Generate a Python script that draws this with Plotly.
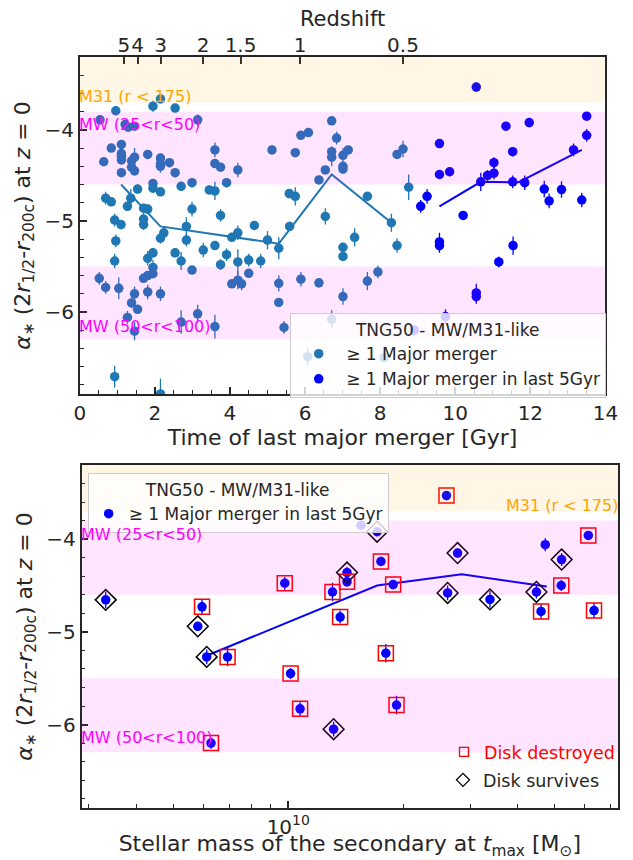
import numpy as np
import plotly.graph_objects as go

# ---------------------------------------------------------------------------
# TNG50 MW/M31-like galaxies with at least one major merger:
# time of the last major merger [Gyr], alpha_* (2 r_1/2 - r_200c) at z=0, 1-sigma
# ---------------------------------------------------------------------------
mm_time = [
    0.96, 0.54, 1.95, 2.15, 2.54, 3.14, 1.21, 1.29, 1.46, 0.84, 1.11, 0.64, 1.11, 1.11,
    1.11, 1.38, 1.46, 1.38, 1.46, 1.11, 1.81, 2.15, 2.15, 2.15, 2.39, 2.54, 3.60, 3.60,
    3.75, 4.21, 1.95, 1.95, 2.15, 1.54, 2.70, 2.99, 3.45, 3.60, 3.91, 0.69, 0.84, 1.36,
    1.27, 1.70, 1.81, 2.99, 3.75, 1.70, 0.93, 1.10, 1.70, 2.84, 4.65,
    0.96, 2.15, 2.24, 2.84, 2.54, 2.70, 3.29, 3.60, 3.91, 4.05, 4.21, 4.50, 4.21, 3.75,
    2.99, 0.93, 1.95, 1.81, 1.95, 1.95, 1.81, 1.70, 0.52, 0.69, 1.04, 1.46, 1.81, 2.15,
    1.38, 1.54, 1.27, 1.46, 2.70, 3.14, 3.60, 4.05, 4.21, 4.31, 4.50, 0.93, 2.15,
    6.71, 5.89, 6.09, 6.84, 5.12, 5.74, 6.71, 6.71, 7.01, 7.15, 7.01, 7.01, 6.54, 6.37,
    8.45, 8.61, 5.58, 5.74, 7.66, 8.76, 6.54, 5.59, 8.30,
    5.00, 5.30, 4.82, 5.30, 5.30, 5.89, 6.37, 5.44, 7.01, 7.66, 7.94, 7.01, 7.01, 7.32,
    8.45, 6.71, 6.07, 8.10,
]
mm_alpha = [
    -3.79, -3.89, -3.74, -3.66, -3.76, -3.89, -3.94, -3.97, -3.96, -4.20, -4.16, -4.35, -4.26, -4.29,
    -4.33, -4.34, -4.30, -4.41, -4.45, -4.47, -4.27, -4.31, -4.37, -4.40, -4.36, -4.47, -4.22, -4.37,
    -4.41, -4.44, -4.59, -4.64, -4.68, -4.65, -4.62, -4.58, -4.66, -4.67, -4.58, -4.75, -4.79, -4.75,
    -4.84, -4.86, -4.87, -4.87, -4.94, -4.98, -4.99, -5.04, -5.04, -5.06, -5.05,
    -5.22, -5.19, -5.13, -5.21, -5.35, -5.44, -5.32, -5.27, -5.37, -5.18, -5.13, -5.43, -5.45, -5.48,
    -5.54, -5.44, -5.35, -5.41, -5.51, -5.58, -5.60, -5.63, -5.63, -5.73, -5.74, -5.80, -5.78, -5.80,
    -5.90, -5.97, -6.06, -6.21, -6.11, -6.02, -6.16, -5.69, -5.65, -5.69, -5.575, -6.71, -6.90,
    -3.90, -4.06, -4.03, -4.09, -4.22, -4.25, -4.24, -4.30, -4.28, -4.22, -4.40, -4.43, -4.44, -4.55,
    -4.27, -4.21, -4.70, -4.73, -4.73, -4.63, -4.95, -5.06, -5.02,
    -5.21, -5.30, -5.44, -5.685, -5.895, -5.64, -5.68, -6.17, -5.83, -5.66, -5.56, -5.29, -5.39, -5.18,
    -5.27, -6.08, -6.49, -6.50,
]
mm_err = [
    0.03, 0.05, 0.06, 0.04, 0.03, 0.06, 0.04, 0.04, 0.04, 0.04, 0.05, 0.04, 0.04, 0.04,
    0.04, 0.06, 0.10, 0.05, 0.05, 0.04, 0.04, 0.05, 0.06, 0.07, 0.05, 0.05, 0.08, 0.05,
    0.05, 0.08, 0.05, 0.05, 0.04, 0.05, 0.04, 0.05, 0.05, 0.10, 0.05, 0.07, 0.04, 0.10,
    0.05, 0.05, 0.05, 0.08, 0.07, 0.08, 0.07, 0.05, 0.06, 0.10, 0.05,
    0.07, 0.06, 0.06, 0.07, 0.05, 0.10, 0.08, 0.05, 0.07, 0.05, 0.08, 0.07, 0.14, 0.06,
    0.03, 0.08, 0.05, 0.08, 0.08, 0.04, 0.04, 0.04, 0.07, 0.07, 0.12, 0.08, 0.08, 0.08,
    0.06, 0.04, 0.07, 0.10, 0.13, 0.10, 0.13, 0.04, 0.10, 0.07, 0.04, 0.12, 0.17,
    0.03, 0.04, 0.04, 0.07, 0.05, 0.04, 0.06, 0.10, 0.08, 0.04, 0.05, 0.05, 0.04, 0.04,
    0.05, 0.09, 0.05, 0.10, 0.04, 0.14, 0.09, 0.05, 0.10,
    0.10, 0.12, 0.08, 0.09, 0.04, 0.08, 0.05, 0.07, 0.09, 0.10, 0.07, 0.05, 0.04, 0.10,
    0.08, 0.10, 0.10, 0.04,
]

# Sub-sample whose last major merger happened in the last 5 Gyr
recent_time = [
    10.56, 13.50, 11.97, 11.35, 13.50, 9.58, 13.15, 11.53, 11.03, 9.85, 11.03,
    9.58, 10.86, 10.68, 11.53, 11.85, 12.37, 12.83, 9.25, 13.37, 12.50, 9.08,
    10.21, 9.58, 9.58, 11.54, 11.16, 10.56, 10.56, 9.74, 8.91,
]
recent_alpha = [
    -3.53, -3.85, -3.92, -3.96, -4.06, -4.15, -4.22, -4.24, -4.36, -4.46, -4.475,
    -4.49, -4.50, -4.57, -4.57, -4.58, -4.65, -4.655, -4.73, -4.77, -4.78, -4.84,
    -4.94, -5.23, -5.27, -5.27, -5.45, -5.79, -5.83, -6.05, -6.20,
]
recent_err = [
    0.05, 0.03, 0.05, 0.04, 0.07, 0.05, 0.07, 0.05, 0.06, 0.05, 0.07,
    0.05, 0.06, 0.10, 0.07, 0.08, 0.09, 0.09, 0.08, 0.08, 0.08, 0.07,
    0.05, 0.10, 0.08, 0.10, 0.06, 0.10, 0.08, 0.08, 0.06,
]
# stellar mass of the secondary at t_max [1e10 Msun]
recent_mstar = [
    2.600, 1.552, 1.710, 6.124, 4.721, 2.780, 5.212, 1.750, 1.426, 1.426, 0.979,
    1.884, 5.200, 1.306, 4.477, 2.618, 3.381, 0.332, 0.594, 6.339, 4.603, 1.368,
    0.579, 1.803, 0.611, 0.693, 1.014, 1.923, 1.074, 1.315, 0.627,
]
recent_disk = [
    "destroyed", "", "survives", "destroyed", "", "survives", "survives", "destroyed",
    "survives", "destroyed", "destroyed", "destroyed", "destroyed", "destroyed",
    "survives", "survives", "survives", "survives", "destroyed", "destroyed", "destroyed",
    "destroyed", "survives", "destroyed", "survives", "destroyed", "destroyed",
    "destroyed", "destroyed", "survives", "destroyed",
]

# Running medians
mm_med_time = [1.10, 2.15, 5.30, 6.71, 8.30]
mm_med_alpha = [-4.60, -5.06, -5.25, -4.49, -5.02]
recent_med_time = [9.58, 10.68, 11.69, 13.37]
recent_med_alpha = [-4.84, -4.57, -4.575, -4.22]
mass_med = [0.617, 1.710, 2.851, 4.764]
mass_med_alpha = [-5.25, -4.50, -4.38, -4.51]

# Observational bands of alpha_*
m31_band = (-3.70, -3.0)
mw_inner_band = (-4.60, -3.80)
mw_outer_band = (-6.30, -5.50)

# Redshift labels for the secondary time axis
redshift_ticks = [5, 4, 3, 2, 1.5, 1, 0.5]
redshift_labels = ["5", "4", "3", "2", "1.5", "1", "0.5"]


def cosmic_age(z, h0=67.74, om=0.3089):
    """Age of a flat LCDM universe at redshift z, in Gyr."""
    ol = 1.0 - om
    a = 1.0 / (1.0 + np.asarray(z, dtype=float))
    return (977.8 / h0) * 2.0 / (3.0 * np.sqrt(ol)) * np.arcsinh(np.sqrt(ol / om) * a ** 1.5)


TAB_BLUE = "#1f77b4"
BLUE = "#0000ff"
INK = "#262626"
FONT = "DejaVu Sans"
YRANGE = [-6.9, -3.2]

fig = go.Figure()

# ---------------- top panel ----------------
fig.add_trace(go.Scatter(
    x=mm_time, y=mm_alpha, mode="markers", name="≥ 1 Major merger",
    marker=dict(color=TAB_BLUE, size=9.5),
    error_y=dict(type="data", array=mm_err, color=TAB_BLUE, thickness=1.3, width=0),
    xaxis="x", yaxis="y", legend="legend",
))
fig.add_trace(go.Scatter(
    x=recent_time, y=recent_alpha, mode="markers", name="≥ 1 Major merger in last 5Gyr",
    marker=dict(color=BLUE, size=9.5),
    error_y=dict(type="data", array=recent_err, color=BLUE, thickness=1.3, width=0),
    xaxis="x", yaxis="y", legend="legend",
))
fig.add_trace(go.Scatter(
    x=mm_med_time, y=mm_med_alpha, mode="lines", line=dict(color=TAB_BLUE, width=2),
    showlegend=False, xaxis="x", yaxis="y",
))
fig.add_trace(go.Scatter(
    x=recent_med_time, y=recent_med_alpha, mode="lines", line=dict(color=BLUE, width=2),
    showlegend=False, xaxis="x", yaxis="y",
))
# carrier for the redshift axis
fig.add_trace(go.Scatter(x=[None], y=[None], xaxis="x3", yaxis="y",
                         showlegend=False, hoverinfo="skip"))

# ---------------- bottom panel ----------------
mass_msun = [m * 1e10 for m in recent_mstar]
fig.add_trace(go.Scatter(
    x=[m * 1e10 for m in mass_med], y=mass_med_alpha, mode="lines",
    line=dict(color=BLUE, width=2), showlegend=False, xaxis="x2", yaxis="y2",
))
fig.add_trace(go.Scatter(
    x=mass_msun, y=recent_alpha, mode="markers", name="≥ 1 Major merger in last 5Gyr",
    marker=dict(color=BLUE, size=9.5),
    error_y=dict(type="data", array=recent_err, color=BLUE, thickness=1.3, width=0),
    xaxis="x2", yaxis="y2", legend="legend2",
))
destroyed = [i for i, d in enumerate(recent_disk) if d == "destroyed"]
survives = [i for i, d in enumerate(recent_disk) if d == "survives"]
fig.add_trace(go.Scatter(
    x=[mass_msun[i] for i in destroyed], y=[recent_alpha[i] for i in destroyed],
    mode="markers", showlegend=False,
    marker=dict(symbol="square-open", size=15, color="#ff0000", line=dict(width=1.5)),
    xaxis="x2", yaxis="y2",
))
fig.add_trace(go.Scatter(
    x=[mass_msun[i] for i in survives], y=[recent_alpha[i] for i in survives],
    mode="markers", showlegend=False,
    marker=dict(symbol="diamond-open", size=16, color="#000000", line=dict(width=1.5)),
    xaxis="x2", yaxis="y2",
))
# legend keys for the disk classification (smaller symbols than in the panel)
fig.add_trace(go.Scatter(
    x=[None], y=[None], mode="markers", name="Disk destroyed",
    marker=dict(symbol="square-open", size=9, color="#ff0000", line=dict(width=1.3)),
    xaxis="x2", yaxis="y2", legend="legend3",
))
fig.add_trace(go.Scatter(
    x=[None], y=[None], mode="markers", name="Disk survives",
    marker=dict(symbol="diamond-open", size=10, color="#000000", line=dict(width=1.3)),
    xaxis="x2", yaxis="y2", legend="legend4",
))

# ---------------- bands and labels ----------------
shapes = []
for xr, yr in (("x domain", "y"), ("x2 domain", "y2")):
    for (lo, hi), col in ((m31_band, "rgba(255,165,0,0.1)"),
                          (mw_inner_band, "rgba(255,0,255,0.1)"),
                          (mw_outer_band, "rgba(255,0,255,0.1)")):
        shapes.append(dict(type="rect", xref=xr, yref=yr, x0=0, x1=1,
                           y0=lo, y1=min(hi, YRANGE[1]), fillcolor=col,
                           line=dict(width=0), layer="above"))

band_font = dict(family=FONT, size=16)


def band_label(text, xr, yr, x, y, color, anchor):
    return dict(text=text, xref=xr, yref=yr, x=x, y=y, xanchor=anchor, yanchor="middle",
                showarrow=False, font=dict(band_font, color=color), borderpad=0,
                xshift=-2 if anchor == "left" else 1)


annotations = [
    band_label("M31 (r < 175)", "x domain", "y", 0, -3.635, "#FFA500", "left"),
    band_label("MW (25<r<50)", "x domain", "y", 0, -3.945, "#FF00FF", "left"),
    band_label("MW (50<r<100)", "x domain", "y", 0, -6.155, "#FF00FF", "left"),
    band_label("M31 (r < 175)", "x2 domain", "y2", 1, -3.64, "#FFA500", "right"),
    band_label("MW (25<r<50)", "x2 domain", "y2", 0, -3.945, "#FF00FF", "left"),
    band_label("MW (50<r<100)", "x2 domain", "y2", 0, -6.145, "#FF00FF", "left"),
]

# ---------------- axes ----------------
tick_font = dict(family=FONT, size=20, color=INK)
xtitle_font = dict(family=FONT, size=22, color=INK)
ytitle_font = dict(family=FONT, size=22, color=INK)
frame = dict(showline=True, linecolor=INK, linewidth=1.6, mirror=True,
             showgrid=False, zeroline=False, ticks="inside", ticklen=7,
             tickwidth=1.5, tickcolor=INK, tickfont=tick_font, tickangle=0)
ytitle = ("<i>α</i><sub>∗</sub> (2<i>r</i><sub>1/2</sub>-<i>r</i><sub>200c</sub>)"
          " at <i>z</i> = 0")

mass_minor = [k * 1e9 for k in range(3, 10)] + [k * 1e10 for k in range(2, 8)]
minor_y = dict(ticks="inside", ticklen=4, tickwidth=1.2, dtick=0.2, tickcolor=INK)

legend_font = dict(family=FONT, size=17, color=INK)

fig.update_layout(
    width=633, height=860, margin=dict(l=0, r=0, t=0, b=0),
    paper_bgcolor="white", plot_bgcolor="white",
    font=dict(family=FONT, color=INK),
    shapes=shapes, annotations=annotations,
    xaxis=dict(frame, domain=[0.1201, 0.9763], anchor="y", range=[0, 14],
               dtick=2, tick0=0,
               minor=dict(ticks="inside", ticklen=4, tickwidth=1.2, dtick=0.5,
                          tickcolor=INK),
               title=dict(text="Time of last major merger [Gyr]", font=xtitle_font,
                          standoff=3)),
    xaxis3=dict(overlaying="x", side="top", anchor="y", range=[0, 14],
                tickvals=[float(v) for v in cosmic_age(redshift_ticks)],
                ticktext=redshift_labels, ticks="inside", ticklen=7, tickwidth=1.5,
                tickcolor=INK, tickfont=tick_font, tickangle=0, showgrid=False,
                zeroline=False, showline=False,
                title=dict(text="Redshift", font=dict(family=FONT, size=21, color=INK),
                           standoff=0)),
    yaxis=dict(frame, domain=[0.5419, 0.9337], anchor="x", range=YRANGE,
               dtick=1, tick0=0, minor=minor_y,
               title=dict(text=ytitle, font=ytitle_font, standoff=8)),
    xaxis2=dict(frame, type="log", domain=[0.1232, 0.9968], anchor="y2",
                range=[9.458, 10.865], tickvals=[1e10], ticktext=["10<sup>10</sup>"],
                minor=dict(ticks="inside", ticklen=4, tickwidth=1.2,
                           tickvals=mass_minor, tickcolor=INK),
                title=dict(text="Stellar mass of the secondary at <i>t</i><sub>max</sub>"
                                " [M<sub>⊙</sub>]", font=xtitle_font, standoff=5)),
    yaxis2=dict(frame, domain=[0.0605, 0.4593], anchor="x2", range=YRANGE,
                dtick=1, tick0=0, minor=minor_y,
                title=dict(text=ytitle, font=ytitle_font, standoff=8)),
    legend=dict(x=0.4629, y=0.6360, xanchor="left", yanchor="top",
                bgcolor="rgba(255,255,255,0.8)", bordercolor="#cccccc", borderwidth=1,
                font=legend_font, itemwidth=45,
                title=dict(text="TNG50 - MW/M31-like", side="top center", font=legend_font),
                tracegroupgap=0, itemsizing="trace"),
    legend2=dict(x=0.133, y=0.450, xanchor="left", yanchor="top",
                 bgcolor="rgba(255,255,255,0.8)", bordercolor="#cccccc", borderwidth=1,
                 font=legend_font, itemwidth=30,
                 title=dict(text="TNG50 - MW/M31-like", side="top center", font=legend_font),
                 itemsizing="trace"),
    legend3=dict(x=1.0, y=0.1465, xanchor="right", yanchor="top",
                 bgcolor="rgba(0,0,0,0)", borderwidth=0,
                 font=dict(family=FONT, size=17.5, color="#ff0000"), itemsizing="trace"),
    legend4=dict(x=0.7117, y=0.114, xanchor="left", yanchor="top",
                 bgcolor="rgba(0,0,0,0)", borderwidth=0,
                 font=dict(family=FONT, size=17.5, color=INK), itemsizing="trace"),
)

fig.write_html("out.html")
